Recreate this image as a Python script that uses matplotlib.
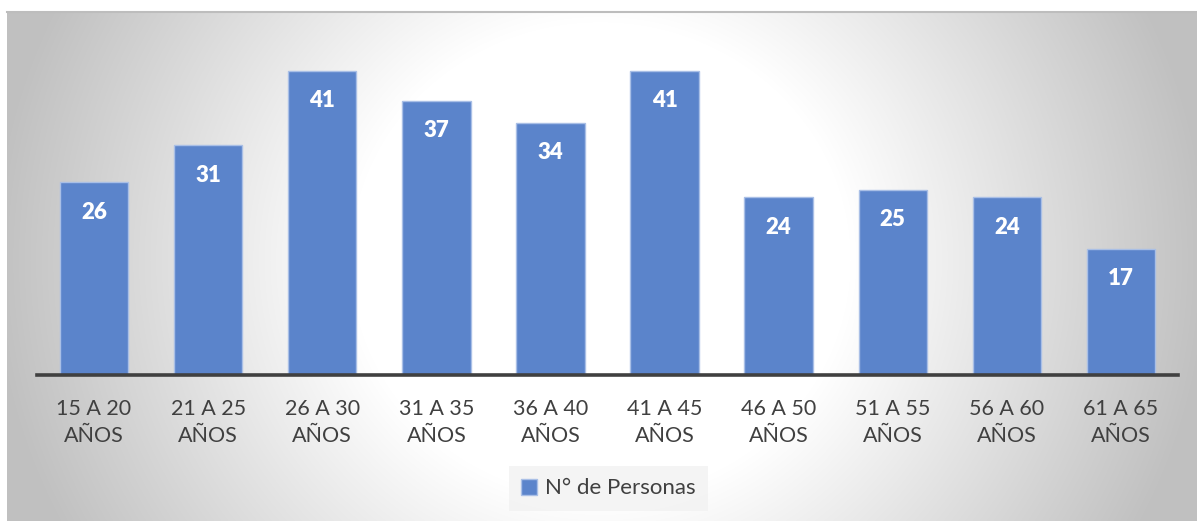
import numpy as np
import matplotlib
matplotlib.use("Agg")
import matplotlib.pyplot as plt
from matplotlib.patches import Patch

# Data
categories = ["15 A 20\nAÑOS", "21 A 25\nAÑOS", "26 A 30\nAÑOS", "31 A 35\nAÑOS",
              "36 A 40\nAÑOS", "41 A 45\nAÑOS", "46 A 50\nAÑOS", "51 A 55\nAÑOS",
              "56 A 60\nAÑOS", "61 A 65\nAÑOS"]
personas = [26, 31, 41, 37, 34, 41, 24, 25, 24, 17]
series_name = "N° de Personas"

W, H = 1197, 521
fig = plt.figure(figsize=(W / 100, H / 100), dpi=100)
fig.patch.set_facecolor("white")

# Radial grey-to-white background panel
bg = fig.add_axes([0, 0, 1, 1], zorder=-10)
bg.set_xlim(0, W)
bg.set_ylim(H, 0)
bg.axis("off")
yy, xx = np.mgrid[0:H, 0:W]
r = np.hypot(xx - 600, (yy - 260) * 1.05)
t = np.clip((r - 250) / 360, 0, 1)
g = (255 - (255 - 192) * t) / 255
img = np.dstack([g, g, g])
img[:11, :, :] = 1.0
img[:, :7, :] = 1.0
bg.imshow(img, extent=(0, W, H, 0), interpolation="bilinear")
bg.plot([7, W], [11.5, 11.5], color="#bdbdbd", lw=1.5)

# Main bar chart
ax = fig.add_axes([37 / W, (H - 375) / H, 1141 / W, (375 - 41.3) / H])
ax.patch.set_alpha(0)
x = np.arange(len(categories))
bar_color = "#5b84cb"
bars = ax.bar(x, personas, width=0.6, color=bar_color, edgecolor="#a9bfe6",
              linewidth=1.0, zorder=2)
ax.set_xlim(-0.5, len(categories) - 0.5)
ax.set_ylim(0, 45)

for xi, v in zip(x, personas):
    ax.annotate(str(v), (xi, v), xytext=(0, -30), textcoords="offset pixels",
                ha="center", va="center", color="white", fontsize=16,
                fontweight="heavy", family="Lato", zorder=3)

for s in ["top", "right", "left"]:
    ax.spines[s].set_visible(False)
ax.spines["bottom"].set_color("#404040")
ax.spines["bottom"].set_linewidth(2.6)
ax.set_yticks([])
ax.set_xticks(x)
ax.set_xticklabels(categories, fontsize=15.5, family="Lato", color="#404040",
                   linespacing=1.45)
ax.tick_params(axis="x", length=0, pad=17)

# Legend
leg = fig.legend(handles=[Patch(facecolor=bar_color, edgecolor="#a9bfe6")],
                 labels=[series_name], loc="center",
                 bbox_to_anchor=(608.5 / W, 1 - 488.5 / H),
                 frameon=True, fancybox=False, prop={"family": "Lato", "size": 16},
                 handlelength=0.7, handleheight=0.7, handletextpad=0.4,
                 borderpad=0.55, borderaxespad=0)
leg.get_frame().set_facecolor("#f2f2f2")
leg.get_frame().set_edgecolor("none")
for txt in leg.get_texts():
    txt.set_color("#404040")

fig.savefig("out.png", dpi=100)
